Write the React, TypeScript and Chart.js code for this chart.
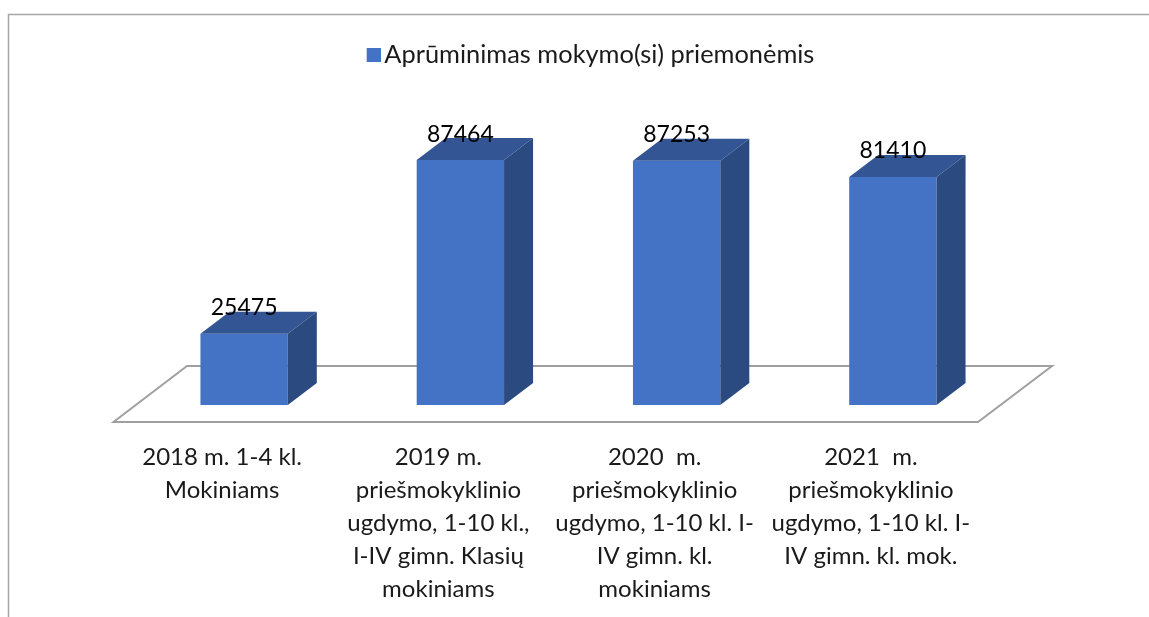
import React, { useEffect, useRef } from "react";
import { Chart, registerables } from "chart.js";

Chart.register(...registerables);

const seriesName = "Aprūminimas mokymo(si) priemonėmis";
const categories = [
  ["2018 m. 1-4 kl.", "Mokiniams"],
  ["2019 m.", "priešmokyklinio", "ugdymo, 1-10 kl.,", "I-IV gimn. Klasių", "mokiniams"],
  ["2020  m.", "priešmokyklinio", "ugdymo, 1-10 kl. I-", "IV gimn. kl.", "mokiniams"],
  ["2021  m.", "priešmokyklinio", "ugdymo, 1-10 kl. I-", "IV gimn. kl. mok."],
];
const values = [25475, 87464, 87253, 81410];

const FONT = "Lato, Carlito, Calibri, sans-serif";
const FACE = "#4472C4";
const TOP = "#335593";
const SIDE = "#2B4A80";
const DEPTH_X = 29;
const DEPTH_Y = 22;

function legendSwatch() {
  const img = document.createElement("canvas");
  img.width = 18;
  img.height = 14;
  const c = img.getContext("2d")!;
  c.fillStyle = FACE;
  c.fillRect(4, 0, 14, 14);
  return img;
}

const box3d = {
  id: "box3d",
  afterLayout(chart: any) {
    if (chart.legend) {
      chart.legend.left += 24.5;
      chart.legend.right += 24.5;
    }
  },
  beforeDraw(chart: any) {
    const c = chart.ctx;
    c.save();
    c.strokeStyle = "#A6A6A6";
    c.lineWidth = 1.5;
    c.beginPath();
    c.moveTo(8.5, 617);
    c.lineTo(8.5, 14.5);
    c.lineTo(1149, 14.5);
    c.stroke();
    c.restore();
  },
  beforeDatasetsDraw(chart: any) {
    const c = chart.ctx;
    const x = chart.scales.x;
    const zero = chart.scales.y.getPixelForValue(0);
    c.save();
    c.strokeStyle = "#A0A0A0";
    c.lineWidth = 2;
    c.lineJoin = "miter";
    c.beginPath();
    c.moveTo(x.left - 22.5, zero + 17);
    c.lineTo(x.right - 23, zero + 17);
    c.lineTo(x.right + 51, zero - 39);
    c.lineTo(x.left + 51, zero - 39);
    c.closePath();
    c.stroke();
    c.restore();
  },
  afterDatasetsDraw(chart: any) {
    const c = chart.ctx;
    const bars = chart.getDatasetMeta(0).data;
    c.save();
    bars.forEach((b: any) => {
      const l = b.x - b.width / 2;
      const r = b.x + b.width / 2;
      const t = b.y;
      const bt = b.base;
      c.fillStyle = TOP;
      c.beginPath();
      c.moveTo(l, t);
      c.lineTo(l + DEPTH_X, t - DEPTH_Y);
      c.lineTo(r + DEPTH_X, t - DEPTH_Y);
      c.lineTo(r, t);
      c.closePath();
      c.fill();
      c.fillStyle = SIDE;
      c.beginPath();
      c.moveTo(r, t);
      c.lineTo(r + DEPTH_X, t - DEPTH_Y);
      c.lineTo(r + DEPTH_X, bt - DEPTH_Y);
      c.lineTo(r, bt);
      c.closePath();
      c.fill();
    });
    c.fillStyle = "#000000";
    c.font = `23px ${FONT}`;
    c.textAlign = "center";
    c.textBaseline = "middle";
    bars.forEach((b: any, i: number) => {
      c.fillText(String(values[i]), b.x, b.y - 26);
    });
    c.restore();
  },
};

export default function App() {
  const ref = useRef<HTMLCanvasElement>(null);
  useEffect(() => {
    const chart = new Chart(ref.current!, {
      type: "bar",
      data: {
        labels: categories,
        datasets: [
          {
            label: seriesName,
            data: values,
            backgroundColor: FACE,
            categoryPercentage: 0.404,
            barPercentage: 1,
          },
        ],
      },
      options: {
        responsive: false,
        animation: false,
        layout: { padding: { left: 136, right: 148, top: 0, bottom: 0 } },
        plugins: {
          tooltip: { enabled: false },
          legend: {
            position: "top",
            labels: {
              usePointStyle: true,
              pointStyle: legendSwatch(),
              pointStyleWidth: 0.01,
              boxHeight: 14,
              padding: 42,
              color: "#1a1a1a",
              font: { family: FONT, size: 25.4 },
            },
          },
        },
        scales: {
          x: {
            grid: { display: false },
            border: { display: false },
            afterFit(s: any) {
              s.height = 212;
            },
            ticks: {
              maxRotation: 0,
              autoSkip: false,
              color: "#1a1a1a",
              padding: 28,
              labelOffset: -22,
              font: { family: FONT, size: 24, lineHeight: "33px" },
            },
          },
          y: { display: false, min: 0, max: 117000 },
        },
      },
      plugins: [box3d],
    } as any);
    return () => chart.destroy();
  }, []);
  return (
    <canvas
      ref={ref}
      width={1149}
      height={617}
      style={{ position: "absolute", left: 0, top: 0, display: "block" }}
    />
  );
}
